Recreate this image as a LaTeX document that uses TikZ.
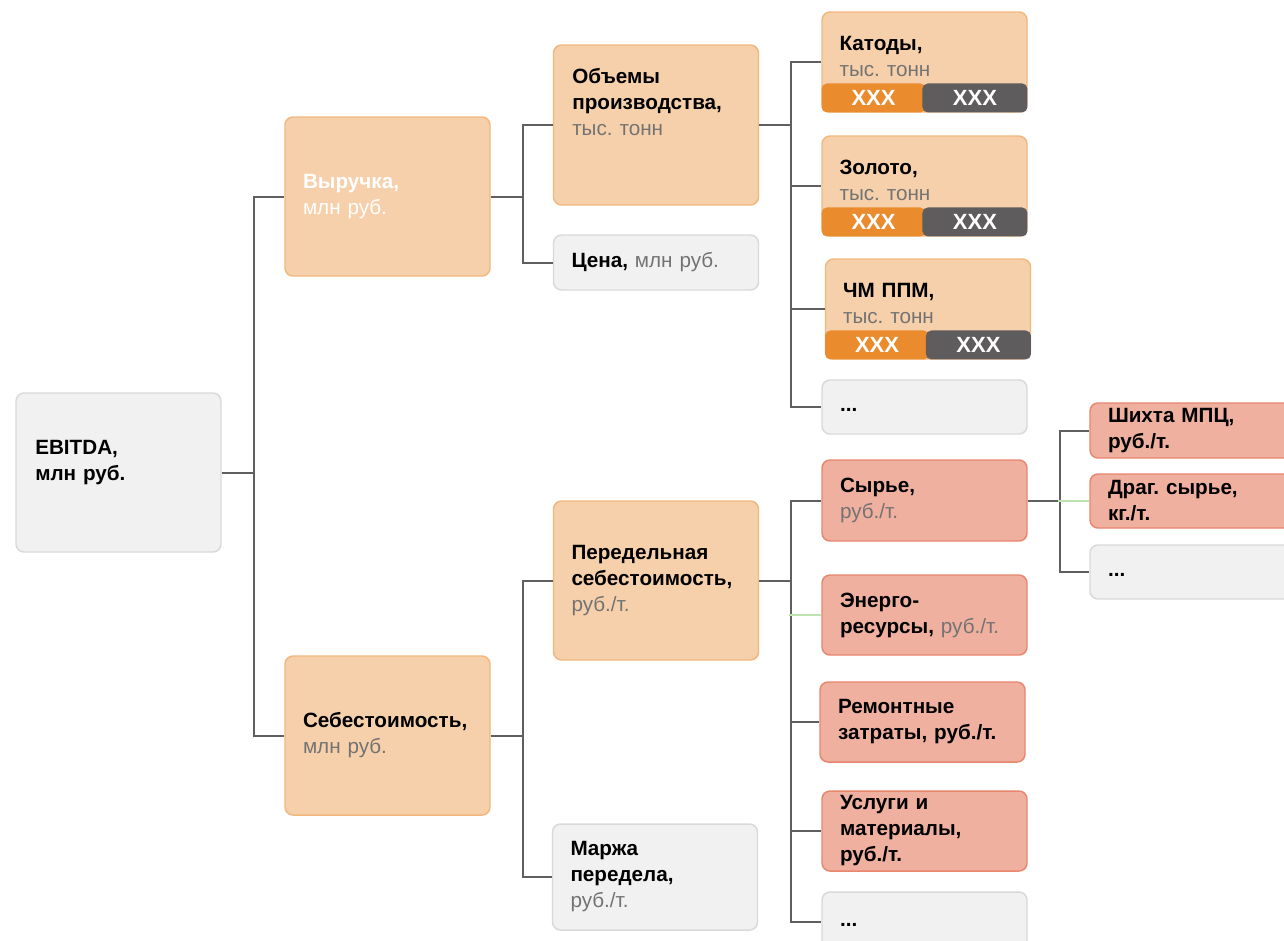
\documentclass[tikz,border=0pt]{standalone}
\usepackage{fontspec}
\setmainfont{Liberation Sans}
\frenchspacing

\definecolor{boxgray}{HTML}{F1F1F1}
\definecolor{edgegray}{HTML}{D9D9D9}
\definecolor{boxorange}{HTML}{F6D0AA}
\definecolor{edgeorange}{HTML}{F2B77E}
\definecolor{boxred}{HTML}{F0B09F}
\definecolor{edgered}{HTML}{E8866E}
\definecolor{barorange}{HTML}{EA8B2E}
\definecolor{bardark}{HTML}{5E5C5C}
\definecolor{linegray}{HTML}{5F5F5F}
\definecolor{unitgray}{HTML}{737373}
\definecolor{linegreen}{HTML}{BDE3AE}

\newcommand{\munit}[1]{{\mdseries\color{unitgray}#1}}
\newcommand{\moredots}{\raisebox{-3pt}[0pt][0pt]{...}}

\tikzset{
    box/.style={rounded corners=6pt, line width=1.1pt, inner xsep=13.5pt, inner ysep=2pt,
        text width=126.75pt, align=left, minimum width=153.75pt,
        font=\fontsize{15.5pt}{19.5pt}\selectfont\bfseries},
    graybox/.style={box, draw=edgegray, fill=boxgray},
    orangebox/.style={box, draw=edgeorange, fill=boxorange},
    redbox/.style={box, draw=edgered, fill=boxred},
    txt/.style={inner sep=0pt, text width=120pt, align=left, anchor=base west,
        font=\fontsize{15.5pt}{19.5pt}\selectfont\bfseries},
    bar/.style={rounded corners=4pt, minimum height=21.75pt, inner sep=0pt, text=white,
        font=\fontsize{16.5pt}{18pt}\selectfont\bfseries},
    conn/.style={draw=linegray, line width=1.5pt},
    conngreen/.style={draw=linegreen, line width=1.2pt},
}

\begin{document}
\begin{tikzpicture}[x=0.75pt,y=-0.75pt]
    \clip (0,0) rectangle (1284,940);
    \fill[white] (0,0) rectangle (1284,940);

    % level 0 and 1
    \node[graybox, minimum height=119.25pt] (ebitda) at (118.5,472.5) {};
    \node[txt] (ebitda-t) at (35,454) {EBITDA,\\млн руб.};
    \node[orangebox, minimum height=119.25pt, text=white] (vyr) at (387.5,196.5) {Выручка,\\{\mdseries млн руб.}};
    \node[orangebox, minimum height=119.25pt] (seb) at (387.5,735.5) {Себестоимость,\\\munit{млн руб.}};

    % level 2
    \node[orangebox, minimum height=120pt] (obj) at (656,125) {};
    \node[txt] (obj-t) at (572,83) {Объемы\\производства,\\\munit{тыс. тонн}};
    \node[graybox, minimum height=41.25pt] (cena) at (656,262.5) {Цена, \munit{млн руб.}};
    \node[orangebox, minimum height=119.25pt] (pered) at (656,580.5) {Передельная\\себестоимость,\\\munit{руб./т.}};
    \node[graybox, minimum height=79.5pt] (marzha) at (655,877) {Маржа\\передела,\\\munit{руб./т.}};

    % level 3, volumes
    \foreach \name/\cx/\cy/\title in {kat/924.5/62/Катоды, zol/924.5/186/Золото, chm/928/309/ЧМ ППМ} {
        \node[orangebox, minimum height=75pt] (\name) at (\cx,\cy) {};
        \node[txt] (\name-t) at ([shift={(18,39)}]\name.north west) {\title,\\\munit{тыс. тонн}};
        \node[bar, fill=barorange, minimum width=78pt, anchor=south west] (\name-a) at (\name.south west) {XXX};
        \node[bar, fill=bardark, minimum width=78.75pt, anchor=south east] (\name-b) at (\name.south east) {XXX};
    }
    \node[graybox, minimum height=40.5pt] (dots1) at (924.5,407) {\moredots};

    % level 3, costs
    \node[redbox, minimum height=60.75pt] (syr) at (924.5,500.5) {Сырье,\\\munit{руб./т.}};
    \node[redbox, minimum height=60pt] (energ) at (924.5,615) {Энерго-\\ресурсы, \munit{руб./т.}};
    \node[redbox, minimum height=60pt] (rem) at (922.5,722) {Ремонтные\\затраты, руб./т.};
    \node[redbox, minimum height=60pt] (usl) at (924.5,831) {Услуги и\\материалы,\\руб./т.};
    \node[graybox, minimum height=45pt] (dots2) at (924.5,922) {\moredots};

    % level 4
    \node[redbox, minimum height=41.25pt] (shikh) at (1192.5,430.5) {Шихта МПЦ,\\руб./т.};
    \node[redbox, minimum height=40.5pt] (drag) at (1192.5,501) {Драг. сырье,\\кг./т.};
    \node[graybox, minimum height=40.5pt] (dots3) at (1192.5,572) {\moredots};

    % connectors
    \draw[conn] (ebitda.east) -- ++(32,0) |- (vyr.west);
    \draw[conn] (ebitda.east) -- ++(32,0) |- (seb.west);
    \draw[conn] (vyr.east) -- ++(32,0) |- (obj.west);
    \draw[conn] (vyr.east) -- ++(32,0) |- (cena.west);
    \draw[conn] (seb.east) -- ++(32,0) |- (pered.west);
    \draw[conn] (seb.east) -- ++(32,0) |- (marzha.west);
    \foreach \t in {kat,zol,chm,dots1}
        \draw[conn] (obj.east) -- ++(32,0) |- (\t.west);
    \foreach \t in {syr,rem,usl,dots2}
        \draw[conn] (pered.east) -- ++(32,0) |- (\t.west);
    \draw[conngreen] (energ.west) -- ++(-32,0);
    \foreach \t in {shikh,dots3}
        \draw[conn] (syr.east) -- ++(32,0) |- (\t.west);
    \draw[conngreen] (drag.west) -- ++(-31,0);
\end{tikzpicture}
\end{document}
